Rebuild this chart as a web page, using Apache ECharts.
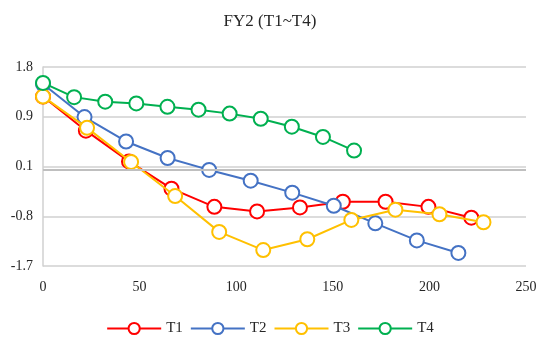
<!DOCTYPE html>
<html>
<head>
<meta charset="utf-8">
<script src="https://cdn.jsdelivr.net/npm/echarts@6/dist/echarts.min.js"></script>
<style>
  html, body { margin: 0; padding: 0; background: #fff; }
  #chart { width: 540px; height: 345px; }
</style>
</head>
<body>
<div id="chart"></div>
<script>
// Time offsets for each run
const t1X = [0, 22.2, 44.5, 66.5, 88.7, 110.8, 133, 155.2, 177.3, 199.5, 221.7];
const t2X = [0, 21.5, 43, 64.5, 86, 107.5, 129, 150.5, 172, 193.5, 215];
const t3X = [0, 22.8, 45.6, 68.4, 91.2, 114, 136.8, 159.6, 182.4, 205.2, 228];
const t4X = [0, 16.1, 32.2, 48.3, 64.4, 80.5, 96.6, 112.7, 128.8, 144.9, 161];

// Measured values
const t1Y = [1.28, 0.68, 0.14, -0.34, -0.66, -0.74, -0.67, -0.57, -0.57, -0.66, -0.85];
const t2Y = [1.5, 0.92, 0.49, 0.20, -0.01, -0.20, -0.41, -0.64, -0.95, -1.25, -1.47];
const t3Y = [1.28, 0.73, 0.13, -0.47, -1.10, -1.42, -1.23, -0.89, -0.71, -0.79, -0.93];
const t4Y = [1.52, 1.27, 1.19, 1.16, 1.10, 1.05, 0.98, 0.89, 0.75, 0.57, 0.33];

// Value axis ticks (min -1.7, max 1.8, step 0.875)
const yTicks = [-1.7, -0.825, 0.05, 0.925, 1.8];
const xTicks = [0, 50, 100, 150, 200, 250];

const names = ['T1', 'T2', 'T3', 'T4'];
const colors = ['#ff0000', '#4472c4', '#ffc000', '#00b050'];
const xs = [t1X, t2X, t3X, t4X];
const ys = [t1Y, t2Y, t3Y, t4Y];

const FONT = '"Liberation Serif", "DejaVu Serif", serif';

const series = names.map((n, i) => ({
  name: n,
  type: 'line',
  data: xs[i].map((x, k) => [x, ys[i][k]]),
  symbol: 'circle',
  symbolSize: 14,
  showSymbol: true,
  lineStyle: { color: colors[i], width: 2 },
  itemStyle: { color: '#ffffff', borderColor: colors[i], borderWidth: 2 },
  emphasis: { disabled: true },
  z: 2 + i
}));

// zero line of the value axis
series[0].markLine = {
  silent: true,
  symbol: 'none',
  label: { show: false },
  lineStyle: { color: '#bfbfbf', width: 2, type: 'solid' },
  data: [{ yAxis: 0 }],
  animation: false
};

const chart = echarts.init(document.getElementById('chart'), null, { renderer: 'canvas' });
chart.setOption({
  animation: false,
  backgroundColor: '#ffffff',
  title: {
    text: 'FY2 (T1~T4)',
    left: 'center',
    top: 8,
    textStyle: { fontFamily: FONT, fontSize: 17, fontWeight: 'normal', color: '#262626' }
  },
  legend: {
    bottom: 4,
    left: 'center',
    itemWidth: 54,
    itemHeight: 14,
    itemGap: 7,
    data: names,
    textStyle: { fontFamily: FONT, fontSize: 15, color: '#262626' }
  },
  grid: { left: 43, right: 14, top: 67, bottom: 79, containLabel: false },
  xAxis: {
    type: 'value',
    min: 0,
    max: 250,
    interval: 50,
    axisLine: { show: false },
    axisTick: { show: false },
    splitLine: { show: false },
    axisLabel: {
      margin: 14,
      fontFamily: FONT,
      fontSize: 14,
      color: '#262626',
      customValues: xTicks
    }
  },
  yAxis: {
    type: 'value',
    min: yTicks[0],
    max: yTicks[yTicks.length - 1],
    axisLine: { show: true, lineStyle: { color: '#d0d0d0', width: 1.5 } },
    axisTick: { show: false, customValues: yTicks },
    splitLine: { show: true, lineStyle: { color: '#d0d0d0', width: 1.5 } },
    axisLabel: {
      margin: 10,
      fontFamily: FONT,
      fontSize: 14,
      color: '#262626',
      customValues: yTicks,
      formatter: v => v.toFixed(1)
    }
  },
  series: series
});
</script>
</body>
</html>
